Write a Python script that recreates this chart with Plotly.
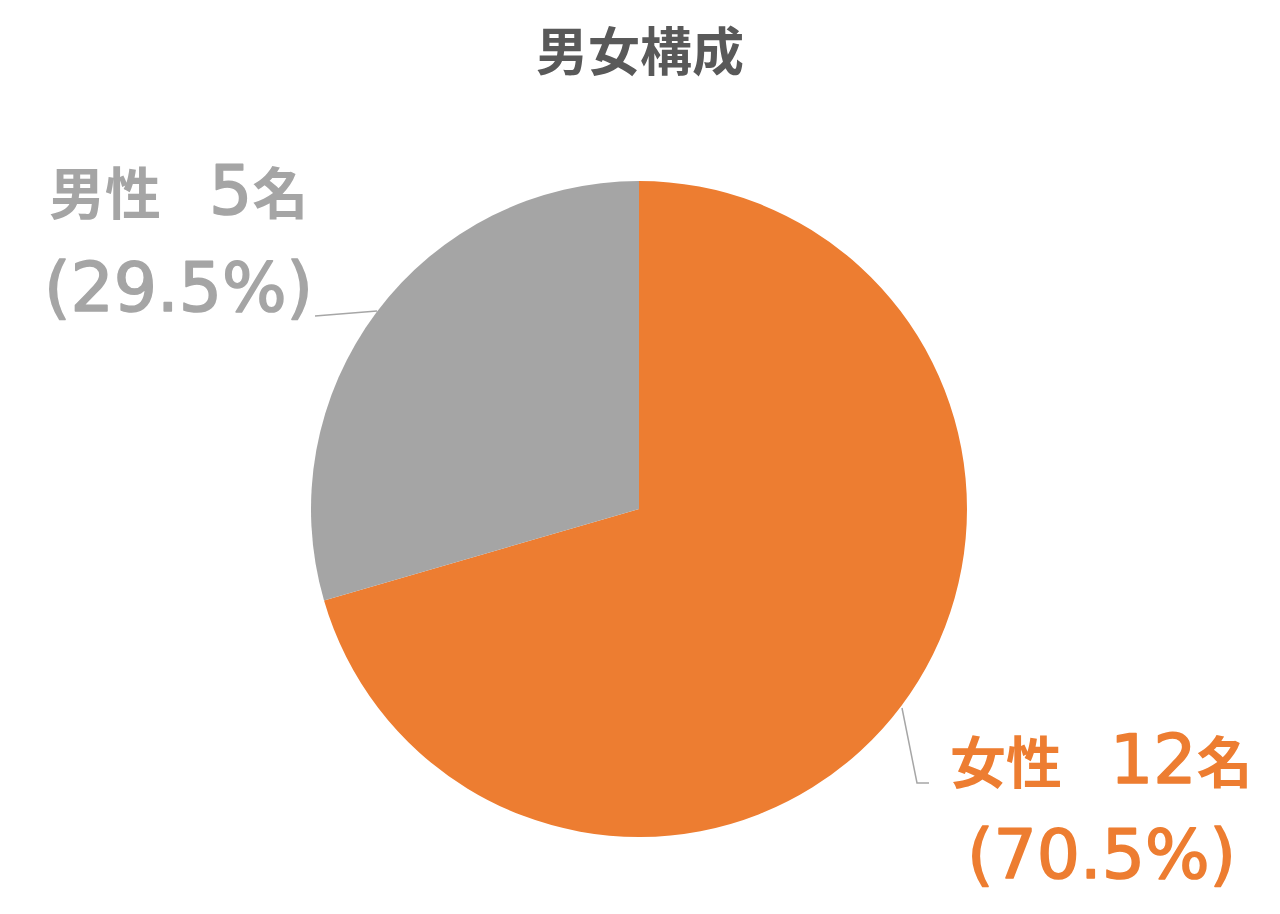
"""男女構成 pie chart."""

import re
import plotly.graph_objects as go

W, H = 1280, 914
OFF = 8  # page body margin

# data
LABELS = ["女性", "男性"]
COUNTS = [12, 5]
SHARES = [70.5, 29.5]
COLORS = ["#ED7D31", "#A5A5A5"]

TITLE = "男女構成"

FONT = "DejaVu Sans, Noto Sans CJK JP"


def px(x, y):
    """screen pixel -> paper coords"""
    return (x - OFF) / W, 1 - (y - OFF) / H


def styled(txt, color):
    # kanji bold; digits/symbols larger, regular face thickened with a thin stroke
    out = re.sub(
        r"([0-9().%]+)",
        lambda m: (f'<span style="font-size:68px;stroke:{color};'
                   f'stroke-width:1.6px;stroke-linejoin:round">{m.group(1)}</span>'),
        txt,
    )
    out = re.sub(r"([^\x00-\x7f　]+)", r"<b>\1</b>", out)
    return out.replace("　", '<span style="font-size:48px">　</span>')


fig = go.Figure(
    go.Pie(
        labels=LABELS,
        values=SHARES,
        marker=dict(colors=COLORS, line=dict(width=0)),
        sort=False,
        direction="clockwise",
        rotation=0,
        textinfo="none",
        hoverinfo="label+value+percent",
        showlegend=False,
        domain=dict(x=[px(311, 0)[0], px(967, 0)[0]],
                    y=[px(0, 837)[1], px(0, 181)[1]]),
    )
)

annotations = [
    dict(
        text=f"<b>{TITLE}</b>",
        x=px(640, 0)[0], y=px(0, 49)[1],
        font=dict(family="Noto Sans CJK JP", size=52, color="#595959"),
    )
]

# label positions (pixels) for each slice: center x, line1 y, line2 y
label_pos = [(1101, 759, 854), (178, 190, 287)]
for i, (cx, y1, y2) in enumerate(label_pos):
    line1 = f"{LABELS[i]}　{COUNTS[i]}名"
    line2 = f"({SHARES[i]}%)"
    for txt, yy in ((line1, y1), (line2, y2)):
        annotations.append(
            dict(
                text=styled(txt, COLORS[i]),
                x=px(cx, 0)[0], y=px(0, yy)[1],
                font=dict(family=FONT, size=56, color=COLORS[i]),
            )
        )

for a in annotations:
    a.update(xref="paper", yref="paper", showarrow=False,
             xanchor="center", yanchor="middle")

# leader lines
leaders = [
    [(902, 708), (917, 783), (929, 783)],
    [(315, 316), (377, 311)],
]
shapes = []
for pts in leaders:
    p = [px(x, y) for x, y in pts]
    path = "M " + " L ".join(f"{a},{b}" for a, b in p)
    shapes.append(dict(type="path", path=path, xref="paper", yref="paper",
                       line=dict(color="#A6A6A6", width=1.5)))

fig.update_layout(
    width=W,
    height=H,
    margin=dict(l=0, r=0, t=0, b=0),
    paper_bgcolor="white",
    plot_bgcolor="white",
    annotations=annotations,
    shapes=shapes,
)

fig.write_html("out.html")
